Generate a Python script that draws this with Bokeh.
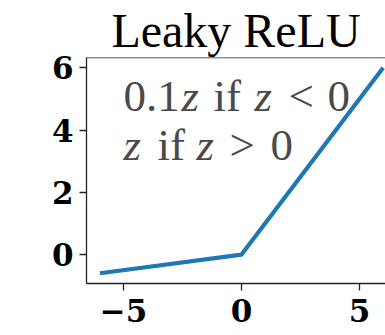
from bokeh.plotting import figure
from bokeh.models import Range1d, FixedTicker, Span
from bokeh.core.properties import value
from bokeh.embed import file_html
from bokeh.resources import INLINE

# Leaky ReLU: f(z) = 0.1 z for z < 0, z for z > 0
z_vals = [-6, 0, 6]
f_vals = [-0.6, 0, 6]

x_ticks = [-5, 0, 5]
x_tick_labels = ["\u22125", "0", "5"]
y_ticks = [0, 2, 4, 6]
y_tick_labels = ["0", "2", "4", "6"]

title_text = "Leaky ReLU"
formula_xy = (-5, 3)
# each formula line is split into upright text and italic variables
formula_line1 = [("0.1", "normal"), ("z", "italic"), ("if", "normal"),
                 ("z", "italic"), ("<", "normal"), ("0", "normal")]
formula_line2 = [("z", "italic"), ("if", "normal"), ("z", "italic"),
                 (">", "normal"), ("0", "normal")]

# horizontal pen positions (px) of the pieces, math-style spacing
line1_advance = [0, 58, 90, 131, 165, 204]
line2_advance = [0, 34, 73, 106, 147]
LINE_GAP = 49
BASELINE_SHIFT = -16

SERIF = "Liberation Serif"
TICK_FONT = "DejaVu Serif"
INK = "#222222"

x0, x1 = -6.57, 6.1
y0, y1 = -0.93, 6.33

p = figure(width=385, height=335, output_backend="svg", toolbar_location=None,
           x_range=Range1d(x0, x1), y_range=Range1d(y0, y1),
           min_border_left=86, min_border_right=0, min_border_top=57,
           min_border_bottom=52)

p.title.text = title_text
p.title.align = "center"
p.title.text_font = SERIF
p.title.text_font_size = "48px"
p.title.text_font_style = "normal"
p.title.text_color = "black"
p.title.standoff = 2

p.grid.visible = False
p.outline_line_color = None
p.background_fill_color = "white"
p.border_fill_color = "white"

# top edge of the axes box (the right edge lies beyond the canvas)
p.add_layout(Span(location=y1, dimension="width", line_color=INK, line_width=1.3))

for ax, ticks, labels in ((p.xaxis[0], x_ticks, x_tick_labels), (p.yaxis[0], y_ticks, y_tick_labels)):
    ax.ticker = FixedTicker(ticks=ticks)
    ax.major_label_overrides = {t: l for t, l in zip(ticks, labels)}
    ax.minor_tick_line_color = None
    ax.major_tick_in = 0
    ax.major_tick_out = 7
    ax.major_tick_line_color = INK
    ax.major_tick_line_width = 1.3
    ax.axis_line_color = INK
    ax.axis_line_width = 1.3
    ax.major_label_text_font = TICK_FONT
    ax.major_label_text_font_size = "31px"
    ax.major_label_text_font_style = "bold"
    ax.major_label_text_color = "black"
p.yaxis.major_label_standoff = 6
p.xaxis.major_label_standoff = 8

p.line(z_vals, f_vals, line_color="#1f77b4", line_width=4.2)

for pieces, advances, dy in ((formula_line1, line1_advance, -LINE_GAP), (formula_line2, line2_advance, 0)):
    for (txt, style), dx in zip(pieces, advances):
        p.text(x=[formula_xy[0]], y=[formula_xy[1]], text=[txt],
               x_offset=dx, y_offset=dy + BASELINE_SHIFT,
               text_font=value(SERIF), text_font_size="45px", text_font_style=style,
               text_color="#4a4a4a", text_align="left", text_baseline="alphabetic")

open("out.html", "w").write(file_html(p, INLINE))
